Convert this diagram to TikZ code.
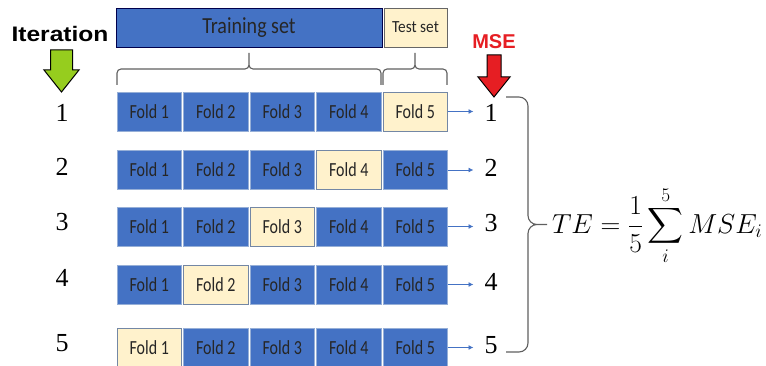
\RequirePackage{fix-cm}
\documentclass[tikz,border=0pt]{standalone}
\usepackage{amsmath}
\usepackage{graphicx}
\usepackage{fontspec}
\usetikzlibrary{positioning, calc, arrows.meta}
\newfontfamily\foldfont{Carlito}
\newfontfamily\labelfont{Liberation Sans}
\newfontfamily\numfont{Liberation Serif}
\newcommand{\squeeze}[2]{\scalebox{#1}[1]{#2}}
\definecolor{FoldBlue}{RGB}{68,114,196}
\definecolor{FoldCream}{RGB}{255,242,204}
\definecolor{FoldEdge}{RGB}{150,175,215}
\definecolor{CreamEdge}{RGB}{115,135,165}
\definecolor{BraceGray}{RGB}{95,95,95}
\definecolor{IterGreen}{RGB}{150,205,30}
\definecolor{MseRed}{RGB}{230,30,35}

\begin{document}
\begin{tikzpicture}[x=1pt, y=-1pt,
    every node/.style={inner sep=0pt, outer sep=0pt},
    fold/.style={rectangle, draw=FoldEdge, fill=FoldBlue, line width=0.8pt, minimum width=64.5pt, minimum height=39pt, font=\foldfont\fontsize{20}{22}\selectfont, text=black!85},
    num/.style={font=\numfont\fontsize{26}{28}\selectfont, inner sep=2pt},
    bigarrow/.style={draw=black, line width=1pt, line join=miter},
    brace/.style={draw=BraceGray, line width=1.1pt, rounded corners=4pt},
    arrow/.style={-{Latex[length=5pt,width=5pt]}, draw=FoldBlue, line width=0.9pt}
  ]
    \useasboundingbox (0,0) rectangle (766,366);

    % Header
    \node[fold, draw=black!70!blue, minimum width=266pt, font=\foldfont\fontsize{23}{25}\selectfont] (train) at (249,27.5) {\squeeze{0.87}{Training set}};
    \node[fold, draw=black!60, fill=FoldCream, minimum width=63pt, font=\foldfont\fontsize{17}{19}\selectfont] (test) at (415.5,27.5) {\squeeze{0.9}{Test set}};

    % Braces under the header
    \draw[brace] (117,85) |- (249,69) -- (249,53) (381,85) |- (249,69) -- (249,53);
    \draw[brace] (383,85) |- (415,69) -- (415,53) (447,85) |- (415,69) -- (415,53);

    % Iteration and MSE marks
    \node[font=\labelfont\bfseries\fontsize{21}{23}\selectfont] (iter) at (60,34) {\squeeze{1.17}{Iteration}};
    \draw[bigarrow, fill=IterGreen] (50.5,50) -- (72.5,50) -- (72.5,70) -- (79,70) -- (61.5,92) -- (44,70) -- (50.5,70) -- cycle;
    \node[font=\labelfont\bfseries\fontsize{20}{22}\selectfont, text=MseRed] (mse) at (494,42) {MSE};
    \draw[bigarrow, fill=MseRed] (487,55) -- (501,55) -- (501,77) -- (510,77) -- (494,97) -- (478,77) -- (487,77) -- cycle;

    % Folds
    \foreach \r/\y/\iy/\my in {1/111.5/113/113, 2/170/167/168, 3/226.5/222/223, 4/284.5/278/282, 5/347.5/343/345} {
      \foreach \c in {1,...,5} {
        \pgfmathtruncatemacro{\t}{6-\r}
        \ifnum\c=\t \def\fc{FoldCream}\def\dc{CreamEdge}\else \def\fc{FoldBlue}\def\dc{FoldEdge}\fi
        \node[fold, fill=\fc, draw=\dc] (f\r-\c) at ({149.25+(\c-1)*66.5},\y) {\squeeze{0.8}{Fold \c}};
      }
      \node[num] (it\r) at (62,\iy) {\r};
      \node[num] (m\r) at (491,\my) {\r};
      \draw[arrow, shorten >=9pt] (f\r-5.east) -- (f\r-5.east -| m\r.west);
    }

    % Total error
    \draw[brace, rounded corners=9pt] (506,97) -| (528,224.5) -- (547,224.5) (506,352) -| (528,224.5) -- (547,224.5);
    \node[anchor=west, font=\fontsize{27.5}{30}\selectfont] (te) at (552,226) {$\displaystyle TE=\frac{1}{5}\sum_{i}^{5}MSE_i$};
  \end{tikzpicture}
\end{document}
